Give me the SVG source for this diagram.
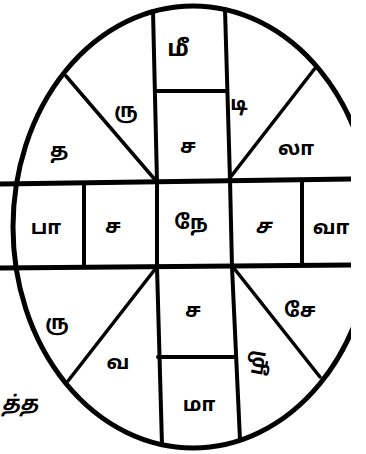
<svg xmlns="http://www.w3.org/2000/svg" width="366" height="454" viewBox="0 0 366 454">
<style>
.ln{fill:none;stroke:#000;stroke-linecap:round;stroke-linejoin:round}
.el{stroke-width:5}
.hz{stroke-width:5}
.vt{stroke-width:4}
.dg{stroke-width:3.5}
.t{font-family:"Noto Sans Tamil","Noto Sans","DejaVu Sans",sans-serif;font-size:20px;font-weight:bold;fill:#000;text-anchor:middle;dominant-baseline:central}
</style>
<defs><clipPath id="c"><rect x="0" y="0" width="351" height="454"/></clipPath></defs>
<rect width="366" height="454" fill="#fff"/>
<g id="connectors" clip-path="url(#c)">
<ellipse class="ln el" cx="193" cy="227" rx="180" ry="221"/>
<path class="ln hz" d="M0 184 L351 179"/>
<path class="ln hz" d="M0 268 L351 265"/>
<path class="ln vt" d="M153 11 L157 182 L157 267 L162 445"/>
<path class="ln vt" d="M225 9 L230 180 L232 267 L240 440"/>
<path class="ln vt" d="M84 184 L84 267"/>
<path class="ln vt" d="M302 180 L302 265"/>
<path class="ln vt" d="M155 91 L227 91"/>
<path class="ln vt" d="M158 357 L234 357"/>
<path class="ln dg" d="M66 76 L157 182"/>
<path class="ln dg" d="M316 67 L229 179"/>
<path class="ln dg" d="M68 381 L156 268"/>
<path class="ln dg" d="M320 377 L233 267"/>
</g>
<g id="n-mii"><text class="t" x="178" y="50" style="font-size:23px">மீ</text></g>
<g id="n-ru1"><text class="t" x="126" y="112">ரு</text></g>
<g id="n-tha"><text class="t" x="59" y="152">த</text></g>
<g id="n-di"><text class="t" x="239" y="105">டி</text></g>
<g id="n-laa"><text class="t" x="296" y="150">லா</text></g>
<g id="n-sa1"><text class="t" x="188" y="148">ச</text></g>
<g id="n-paa"><text class="t" x="46" y="229">பா</text></g>
<g id="n-sa2"><text class="t" x="113" y="228">ச</text></g>
<g id="n-ne"><text class="t" x="191" y="224">நே</text></g>
<g id="n-sa3"><text class="t" x="263" y="228" style="font-style:italic">ச</text></g>
<g id="n-vaa"><text class="t" x="331" y="229">வா</text></g>
<g id="n-sa4"><text class="t" x="193" y="312">ச</text></g>
<g id="n-se"><text class="t" x="300" y="312">சே</text></g>
<g id="n-zhi"><text class="t" x="0" y="0" transform="translate(259 363) rotate(-80)">ழி</text></g>
<g id="n-ru2"><text class="t" x="57" y="324">ரு</text></g>
<g id="n-va"><text class="t" x="118" y="364">வ</text></g>
<g id="n-maa"><text class="t" x="199" y="406">மா</text></g>
<g id="n-tha2"><text class="t" x="20" y="405" style="font-style:italic">த்த</text></g>
</svg>
